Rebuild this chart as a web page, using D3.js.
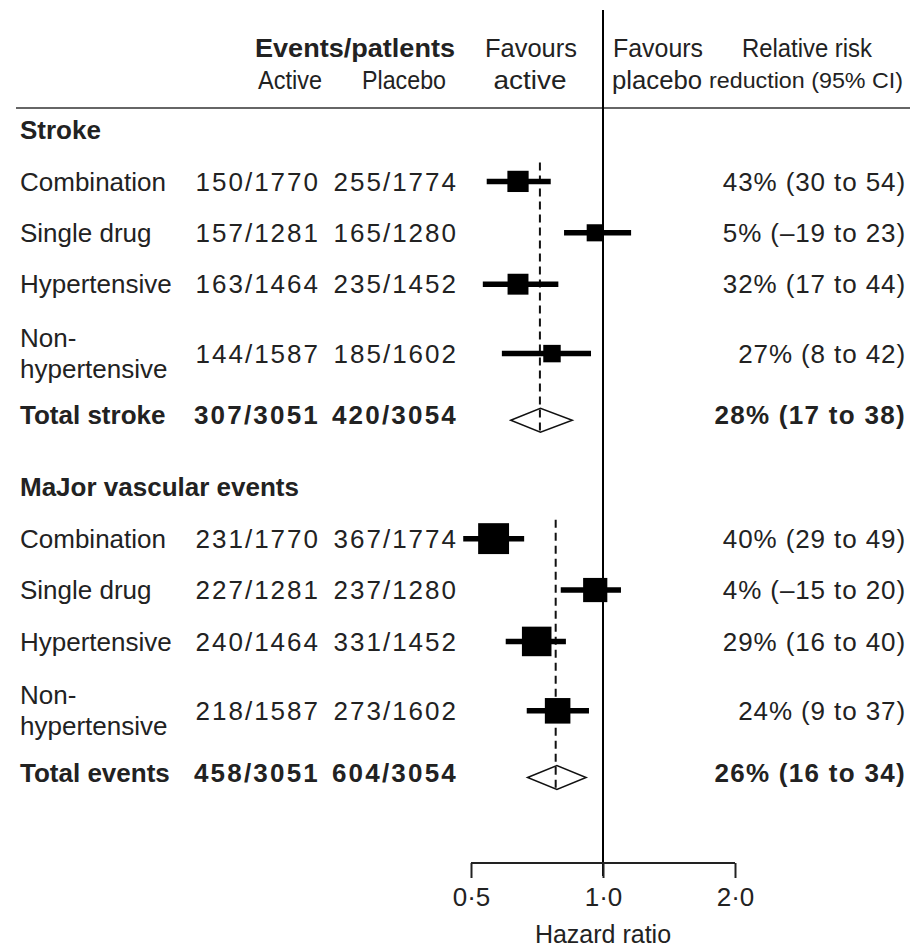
<!DOCTYPE html>
<html>
<head>
<meta charset="utf-8">
<script src="https://cdn.jsdelivr.net/npm/d3@7"></script>
<style>
  html, body { margin: 0; padding: 0; background: #fff; }
  svg text { fill: #222; }
</style>
</head>
<body>
<svg id="chart" width="910" height="948"></svg>
<script>
// ---------------- DATA ----------------
const sectionTitles = ["Stroke", "MaJor vascular events"];
const rowSection = [0, 0, 0, 0, 0, 1, 1, 1, 1, 1];
const rowLabels = ["Combination", "Single drug", "Hypertensive", "Non-|hypertensive", "Total stroke",
                   "Combination", "Single drug", "Hypertensive", "Non-|hypertensive", "Total events"];
const isTotal = [false, false, false, false, true, false, false, false, false, true];
const activeEvents = [150, 157, 163, 144, 307, 231, 227, 240, 218, 458];
const activeN = [1770, 1281, 1464, 1587, 3051, 1770, 1281, 1464, 1587, 3051];
const placeboEvents = [255, 165, 235, 185, 420, 367, 237, 331, 273, 604];
const placeboN = [1774, 1280, 1452, 1602, 3054, 1774, 1280, 1452, 1602, 3054];
const hazardRatio = [0.64, 0.96, 0.64, 0.765, 0.72, 0.563, 0.96, 0.706, 0.788, 0.785];
const ciLower = [0.543, 0.815, 0.532, 0.588, 0.616, 0.48, 0.801, 0.60, 0.67, 0.673];
const ciUpper = [0.76, 1.159, 0.791, 0.939, 0.851, 0.661, 1.099, 0.823, 0.929, 0.915];
const rrrText = ["43% (30 to 54)", "5% (–19 to 23)", "32% (17 to 44)", "27% (8 to 42)", "28% (17 to 38)",
                 "40% (29 to 49)", "4% (–15 to 20)", "29% (16 to 40)", "24% (9 to 37)", "26% (16 to 34)"];
const overallHR = [0.718, 0.78];
const xTicks = [0.5, 1, 2];
const xTickLabels = ["0·5", "1·0", "2·0"];
const xTitle = "Hazard ratio";
const headerLine1 = ["Events/patlents", "Favours", "Favours", "Relative risk"];
const headerLine2 = ["Active", "Placebo", "active", "placebo", "reduction (95% CI)"];

// ---------------- LAYOUT ----------------
const svg = d3.select("#chart");
const FONT = "'Liberation Sans', Arial, sans-serif";
const HFONT = "'Liberation Sans Narrow', 'Liberation Sans', Arial, sans-serif";

const x = d3.scaleLog().domain([0.5, 2]).range([471, 735]);
const boxSize = d3.scaleLinear().domain([300, 600]).range([16, 31]);

// compute slot positions
const slots = [];
const sectionSlot = [];
let s = 0, prevSec = -1;
rowLabels.forEach((lab, i) => {
  if (rowSection[i] !== prevSec) {
    if (prevSec >= 0) s += 1.4;
    sectionSlot.push(s);
    prevSec = rowSection[i];
    s += 1;
  } else {
    const prevTwo = rowLabels[i - 1].includes("|");
    if (isTotal[i]) s += 1.2;
    else if (lab.includes("|")) s += 1.35;
    else if (prevTwo) s += 1.35; else s += 1;
  }
  slots.push(s);
});
const y = d3.scaleLinear().domain([0, 1]).range([130, 181.4]);

// header
const h1x = [355, 531, 658, 807], h1w = [200, 92, 90, 130];
headerLine1.forEach((t, i) => {
  svg.append("text").attr("x", h1x[i]).attr("y", 48).attr("dy", "0.35em")
    .attr("text-anchor", "middle").attr("font-family", i === 0 ? FONT : HFONT)
    .attr("font-weight", i === 0 ? "bold" : "normal").attr("font-size", 25)
    .attr("textLength", h1w[i]).attr("lengthAdjust", "spacingAndGlyphs").text(t);
});
const h2x = [290, 404, 530, 657, 806], h2w = [64, 84, 73, 90, 194], h2s = [25, 25, 25, 25, 22];
headerLine2.forEach((t, i) => {
  svg.append("text").attr("x", h2x[i]).attr("y", 80).attr("dy", "0.35em")
    .attr("text-anchor", "middle").attr("font-family", HFONT).attr("font-size", h2s[i])
    .attr("textLength", h2w[i]).attr("lengthAdjust", "spacingAndGlyphs").text(t);
});

// header rule
svg.append("line").attr("x1", 16).attr("x2", 910).attr("y1", 108).attr("y2", 108)
  .attr("stroke", "#333").attr("stroke-width", 1.5);

// section titles
sectionTitles.forEach((t, i) => {
  svg.append("text").attr("x", 20).attr("y", y(sectionSlot[i])).attr("dy", "0.35em")
    .attr("font-family", FONT).attr("font-size", 26).attr("font-weight", "bold").text(t);
});

// dashed overall lines
overallHR.forEach((hr, k) => {
  const idx = rowSection.map((v, i) => v === k ? i : -1).filter(i => i >= 0);
  const y0 = y(slots[idx[0]]) - 19;
  const y1 = y(slots[idx[idx.length - 1]]) + 5 + 13;
  svg.append("line").attr("x1", x(hr)).attr("x2", x(hr)).attr("y1", y0).attr("y2", y1)
    .attr("stroke", "#111").attr("stroke-width", 2).attr("stroke-dasharray", "8,5");
});

// rows
rowLabels.forEach((lab, i) => {
  const cy = y(slots[i]);
  const bold = isTotal[i] ? "bold" : "normal";
  const parts = lab.split("|");
  if (parts.length === 2) {
    svg.append("text").attr("x", 20).attr("y", cy - 16).attr("dy", "0.35em")
      .attr("font-family", FONT).attr("font-size", 26).text(parts[0]);
    svg.append("text").attr("x", 20).attr("y", cy + 15).attr("dy", "0.35em")
      .attr("font-family", FONT).attr("font-size", 26).text(parts[1]);
  } else {
    svg.append("text").attr("x", 20).attr("y", cy).attr("dy", "0.35em")
      .attr("font-family", FONT).attr("font-size", 26).attr("font-weight", bold).text(lab);
  }
  svg.append("text").attr("x", 320).attr("y", cy).attr("dy", "0.35em")
    .attr("text-anchor", "end").attr("font-family", FONT).attr("font-size", 26)
    .attr("font-weight", bold).attr("letter-spacing", isTotal[i] ? 2.2 : 2.0)
    .text(activeEvents[i] + "/" + activeN[i]);
  svg.append("text").attr("x", 458).attr("y", cy).attr("dy", "0.35em")
    .attr("text-anchor", "end").attr("font-family", FONT).attr("font-size", 26)
    .attr("font-weight", bold).attr("letter-spacing", isTotal[i] ? 2.2 : 2.0)
    .text(placeboEvents[i] + "/" + placeboN[i]);
  svg.append("text").attr("x", 906).attr("y", cy).attr("dy", "0.35em")
    .attr("text-anchor", "end").attr("font-family", FONT).attr("font-size", 26)
    .attr("font-weight", bold).attr("letter-spacing", isTotal[i] ? 1.3 : 0.9)
    .text(rrrText[i]);

  if (isTotal[i]) {
    const dy = cy + 5;
    const pts = [[x(ciLower[i]), dy], [x(hazardRatio[i]), dy - 12], [x(ciUpper[i]), dy], [x(hazardRatio[i]), dy + 12]];
    svg.append("path").attr("d", d3.line()(pts) + "Z")
      .attr("fill", "none").attr("stroke", "#111").attr("stroke-width", 1.5);
  } else {
    svg.append("line").attr("x1", x(ciLower[i])).attr("x2", x(ciUpper[i]))
      .attr("y1", cy).attr("y2", cy).attr("stroke", "#000").attr("stroke-width", 5.5);
    const sz = boxSize(activeEvents[i] + placeboEvents[i]);
    svg.append("rect").attr("x", x(hazardRatio[i]) - sz / 2).attr("y", cy - sz / 2)
      .attr("width", sz).attr("height", sz).attr("fill", "#000");
  }
});

// reference line at HR = 1
svg.append("line").attr("x1", x(1)).attr("x2", x(1)).attr("y1", 10).attr("y2", 876)
  .attr("stroke", "#000").attr("stroke-width", 2);

// axis
const axis = d3.axisBottom(x).tickValues(xTicks).tickFormat((d, i) => xTickLabels[i])
  .tickSize(15).tickPadding(10);
const g = svg.append("g").attr("transform", "translate(0,863)").call(axis);
g.select(".domain").attr("stroke", "#222").attr("stroke-width", 2)
  .attr("d", `M${x(0.5)},0H${x(2)}`);
g.selectAll(".tick line").attr("stroke", "#222").attr("stroke-width", 2);
g.selectAll(".tick text").attr("font-family", FONT).attr("font-size", 26).attr("fill", "#222");

svg.append("text").attr("x", x(1)).attr("y", 934).attr("dy", "0.35em")
  .attr("text-anchor", "middle").attr("font-family", FONT).attr("font-size", 25).text(xTitle);
</script>
</body>
</html>
